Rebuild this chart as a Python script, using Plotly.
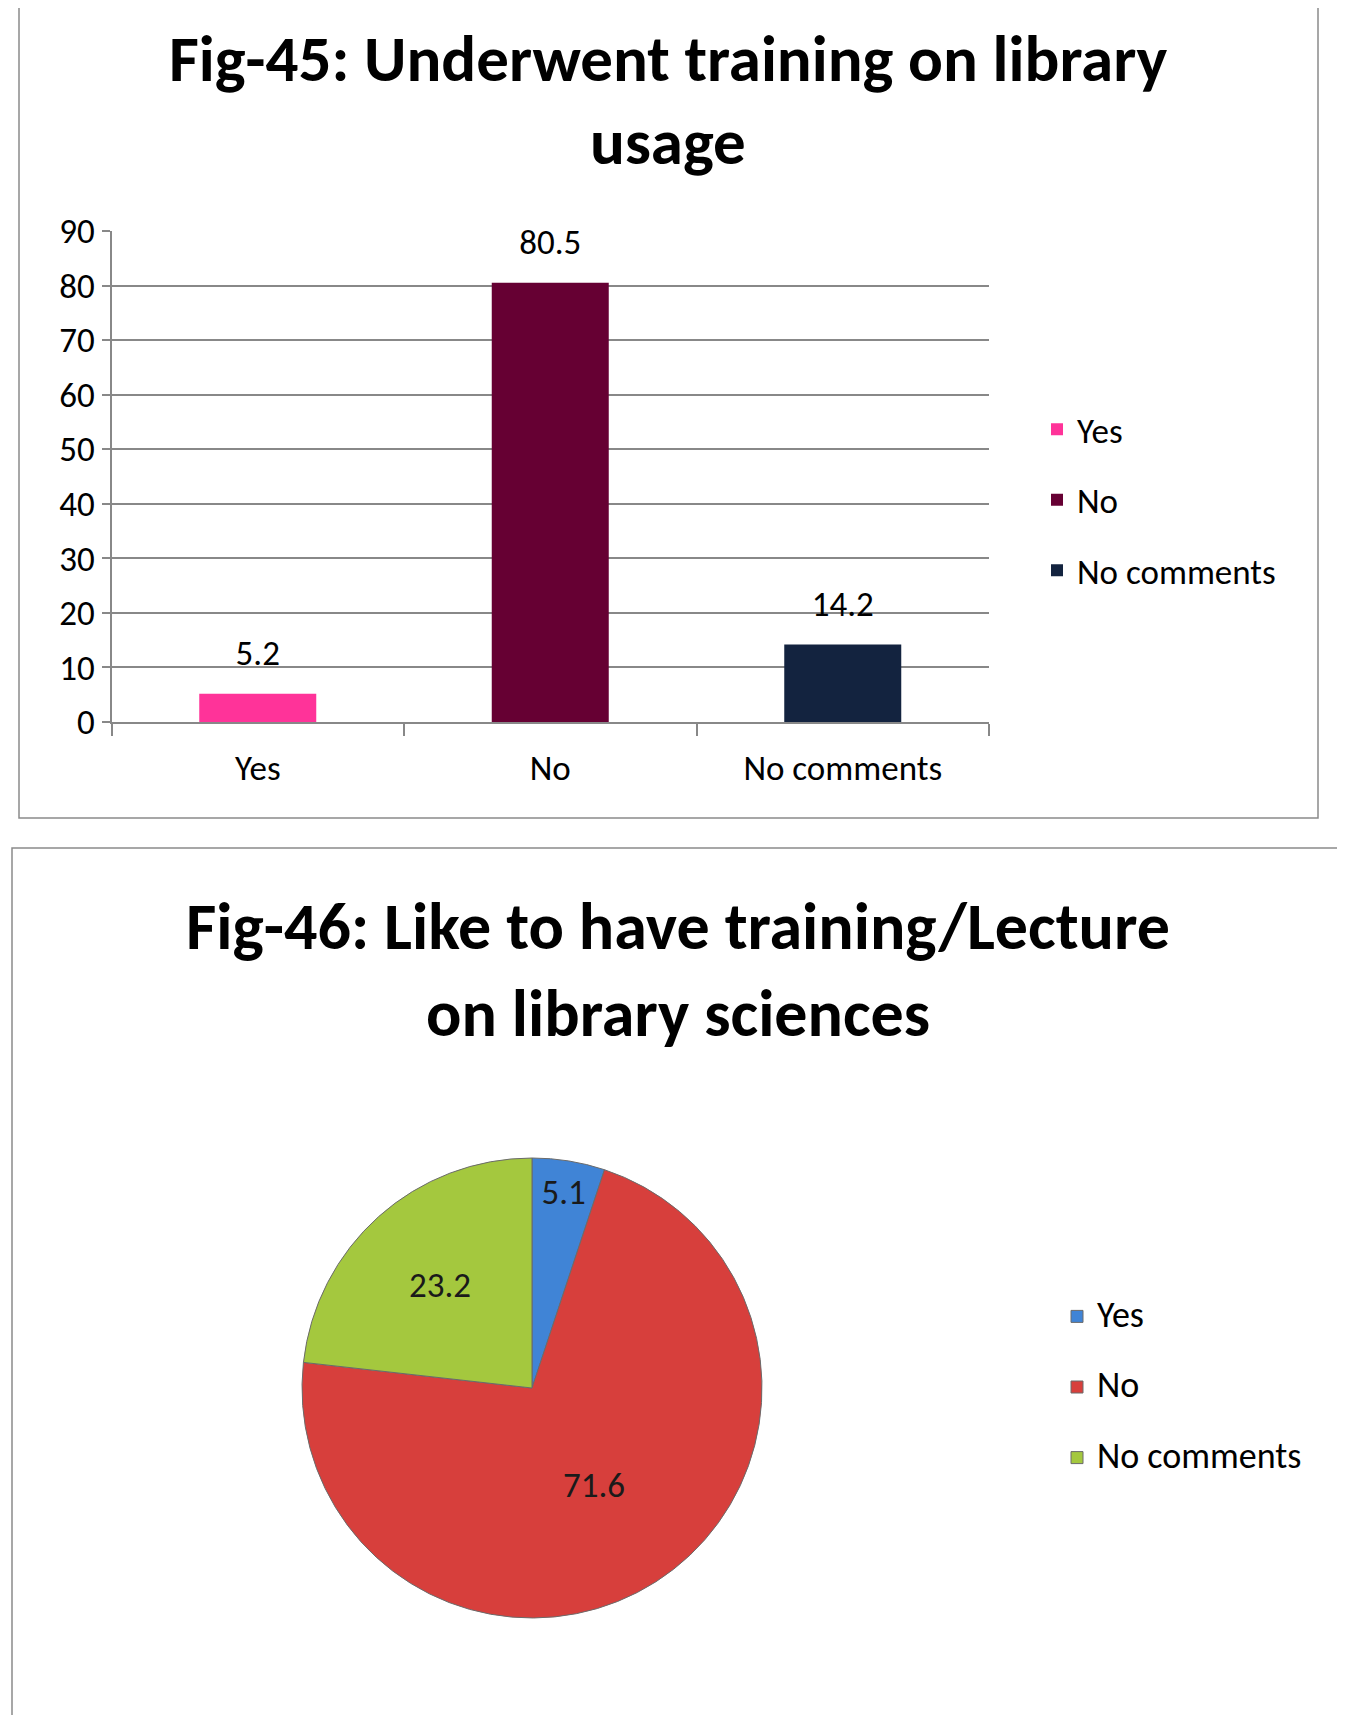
import plotly.graph_objects as go

# Fig-45 data (bar chart)
bar_categories = ["Yes", "No", "No comments"]
bar_values = [5.2, 80.5, 14.2]
bar_colors = ["#FF3399", "#660033", "#13233F"]
y_ticks = [0, 10, 20, 30, 40, 50, 60, 70, 80, 90]

# Fig-46 data (pie chart)
pie_labels = ["Yes", "No", "No comments"]
pie_values = [5.1, 71.6, 23.2]
pie_colors = ["#4084D6", "#D73F3C", "#A4C83E"]

title_45 = ["Fig-45: Underwent training on library", "usage"]
title_46 = ["Fig-46: Like to have training/Lecture", "on library sciences"]

# page has an 8px body margin, so the figure is a bit smaller and
# all the layout positions below are given in page pixels
OFF = 8
W, H = 1345 - OFF, 1715 - OFF
FONT = "Carlito, Calibri, Lato, sans-serif"


def px(x):
    return (x - OFF) / W


def py(y):
    return 1 - (y - OFF) / H


fig = go.Figure()

for cat, val, col in zip(bar_categories, bar_values, bar_colors):
    fig.add_trace(
        go.Bar(
            x=[cat],
            y=[val],
            name=cat,
            marker_color=col,
            marker_line_width=0,
            width=0.4,
            legendgroup=cat,
            legend="legend",
            hoverinfo="x+y",
        )
    )

# value labels above the bars (invisible marker keeps them off the bar top)
fig.add_trace(
    go.Scatter(
        x=bar_categories,
        y=bar_values,
        mode="markers+text",
        text=[f"{v:g}" for v in bar_values],
        textposition="top center",
        textfont=dict(size=35, color="#000000", family=FONT),
        marker=dict(size=30, opacity=0),
        showlegend=False,
        cliponaxis=False,
        hoverinfo="skip",
    )
)

# legend entries of the pie get an empty second line so they sit further apart
pie_legend_text = [f"<span style='font-size:36px'>{lab}</span><br> " for lab in pie_labels]

fig.add_trace(
    go.Pie(
        labels=pie_legend_text,
        values=pie_values,
        customdata=pie_labels,
        marker=dict(colors=pie_colors, line=dict(color="#6b6b6b", width=1)),
        sort=False,
        direction="clockwise",
        rotation=0,
        texttemplate="%{value}",
        textposition="inside",
        insidetextorientation="horizontal",
        textfont=dict(size=35, color="#1a1a1a", family=FONT),
        domain=dict(x=[px(532 - 230), px(532 + 230)], y=[py(1388 + 230), py(1388 - 230)]),
        legend="legend2",
        hovertemplate="%{customdata}: %{value}<extra></extra>",
    )
)

shapes = [
    # frame around Fig-45
    dict(type="rect", xref="paper", yref="paper",
         x0=px(19), x1=px(1318), y0=py(818), y1=py(-30),
         line=dict(color="#8a8a8a", width=1.5), fillcolor="rgba(0,0,0,0)"),
    # frame around Fig-46
    dict(type="rect", xref="paper", yref="paper",
         x0=px(12), x1=px(1343), y0=py(1740), y1=py(848),
         line=dict(color="#8a8a8a", width=1.5), fillcolor="rgba(0,0,0,0)"),
]

annotations = []
for text, yc in zip(title_45, [58, 142]):
    annotations.append(dict(text=f"<b>{text}</b>", x=px(668), y=py(yc),
                            xref="paper", yref="paper", showarrow=False,
                            xanchor="center", yanchor="middle",
                            font=dict(size=65, color="#000000", family=FONT)))
for text, yc in zip(title_46, [926, 1014]):
    annotations.append(dict(text=f"<b>{text}</b>", x=px(678), y=py(yc),
                            xref="paper", yref="paper", showarrow=False,
                            xanchor="center", yanchor="middle",
                            font=dict(size=66, color="#000000", family=FONT)))

fig.update_layout(
    width=W,
    height=H,
    margin=dict(l=0, r=0, t=0, b=0, autoexpand=False),
    paper_bgcolor="white",
    plot_bgcolor="white",
    barmode="overlay",
    font=dict(family=FONT, size=35, color="#000000"),
    xaxis=dict(
        domain=[px(111.5), px(989)],
        automargin=False,
        showgrid=False,
        showline=True,
        linecolor="#888888",
        linewidth=1.5,
        ticks="outside",
        tickson="boundaries",
        ticklen=12,
        tickcolor="#888888",
        tickwidth=1.5,
        ticklabelstandoff=14,
        tickfont=dict(size=35, family=FONT),
        fixedrange=True,
    ),
    yaxis=dict(
        domain=[py(722), py(231)],
        automargin=False,
        range=[0, 90],
        tickvals=y_ticks,
        showgrid=True,
        gridcolor="#888888",
        gridwidth=1.5,
        zeroline=False,
        showline=True,
        linecolor="#888888",
        linewidth=1.5,
        ticks="outside",
        ticklen=8,
        tickcolor="#888888",
        tickwidth=1.5,
        tickfont=dict(size=35, family=FONT),
        fixedrange=True,
    ),
    legend=dict(
        x=px(1037), y=py(400), xanchor="left", yanchor="top",
        font=dict(size=35, family=FONT),
        tracegroupgap=22,
        bgcolor="rgba(0,0,0,0)",
    ),
    legend2=dict(
        x=px(1057), y=py(1293), xanchor="left", yanchor="top",
        font=dict(size=26, family=FONT),
        valign="top",
        bgcolor="rgba(0,0,0,0)",
    ),
    uniformtext=dict(minsize=35, mode="show"),
    shapes=shapes,
    annotations=annotations,
)

fig.write_html("out.html")
